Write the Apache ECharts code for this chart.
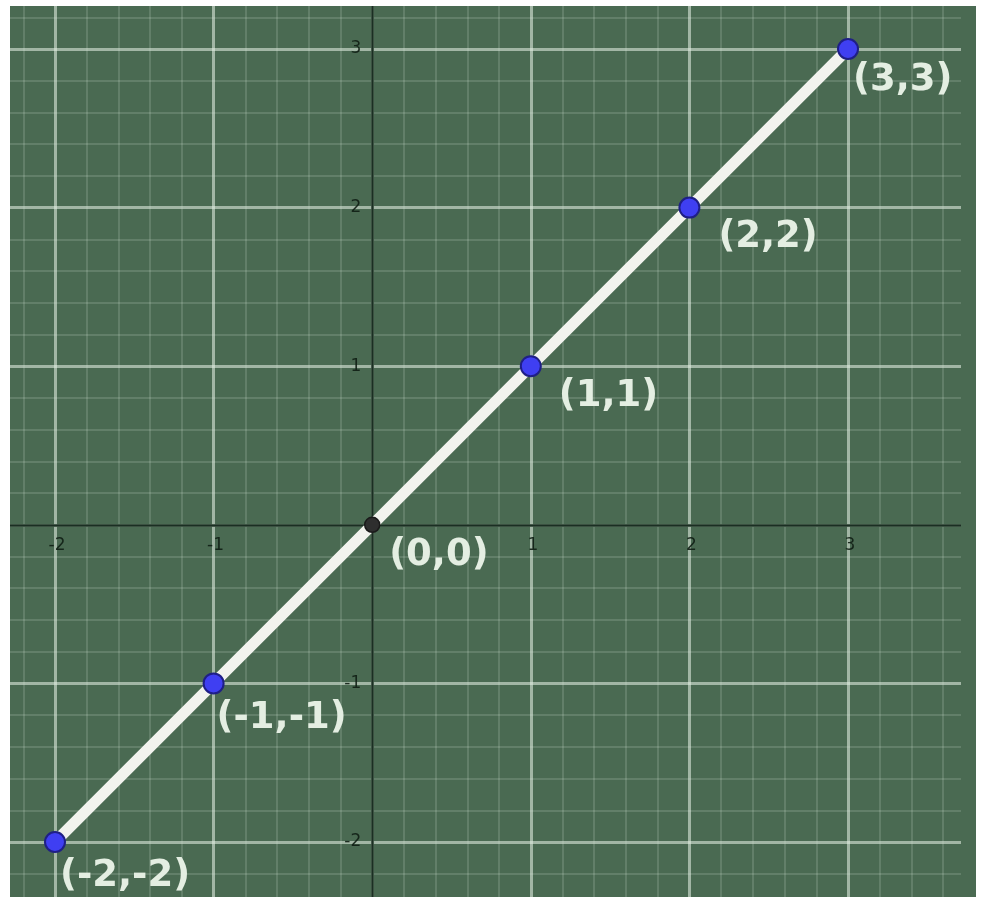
<!DOCTYPE html>
<html>
<head>
<meta charset="utf-8">
<script src="https://cdn.jsdelivr.net/npm/echarts@6/dist/echarts.min.js"></script>
<style>
  html, body { margin: 0; padding: 0; background: #ffffff; overflow: hidden; }
  #chart { width: 981px; height: 897px; }
</style>
</head>
<body>
<div id="chart"></div>
<script>
// Points on the line y = x
const xValues = [-2, -1, 0, 1, 2, 3];
const yValues = [-2, -1, 0, 1, 2, 3];

// Axis extent (integer so that unit ticks start on whole numbers)
const axisMin = -3;
const axisMax = 4;
const tickStep = 1;

const chart = echarts.init(document.getElementById('chart'), null, { renderer: 'canvas' });

const BOARD = '#4a6a52';
const unitPx = 158.6;

// label placement relative to each point (text left edge, vertical centre)
const labelOffsets = [[5, 34], [3, 35], [17, 31], [28, 30], [29, 30], [5, 31]];

const pointData = xValues.map((x, i) => {
  const y = yValues[i];
  const isOrigin = x === 0 && y === 0;
  return {
    value: [x, y],
    symbolSize: isOrigin ? 15 : 20,
    itemStyle: isOrigin
      ? { color: '#2e2e2e', borderColor: '#1a1a1a', borderWidth: 1.5 }
      : { color: '#3f3ff2', borderColor: '#1f1f86', borderWidth: 2 },
    label: { offset: labelOffsets[i] }
  };
});

const majorLine = { show: true, lineStyle: { color: 'rgba(225,238,225,0.58)', width: 3 } };
const minorLine = { show: true, lineStyle: { color: 'rgba(210,228,210,0.18)', width: 2 } };
const axisLineStyle = { show: true, onZero: false, lineStyle: { color: '#1a2f22', width: 2.5 } };
const tickLabel = (v) => (v === 0 ? '' : String(v));
const tickFont = { fontSize: 17, color: 'rgba(16,30,20,0.9)', fontFamily: 'DejaVu Sans' };

// Grid placement: x = -2 lands at 55px and y = 3 lands at 49px
const span = (axisMax - axisMin) * unitPx;
const gridLeft = 55 - (-2 - axisMin) * unitPx;
const gridTop = 49 - (axisMax - 3) * unitPx;
const zeroX = gridLeft + (0 - axisMin) * unitPx;
const zeroY = gridTop + (axisMax - 0) * unitPx;

const option = {
  animation: false,
  backgroundColor: '#ffffff',
  grid: {
    left: gridLeft,
    top: gridTop,
    width: span,
    height: span,
    containLabel: false,
    outerBoundsMode: 'none',
    show: true,
    backgroundColor: BOARD,
    borderWidth: 0
  },
  xAxis: {
    type: 'value',
    position: 'bottom',
    offset: zeroY - (gridTop + span),
    min: axisMin,
    max: axisMax,
    interval: tickStep,
    axisLine: axisLineStyle,
    axisTick: { show: false },
    axisLabel: Object.assign({ formatter: tickLabel, margin: 12, padding: [0, 0, 0, 4] }, tickFont),
    splitLine: majorLine,
    minorTick: { show: false, splitNumber: 5 },
    minorSplitLine: minorLine
  },
  yAxis: {
    type: 'value',
    position: 'left',
    offset: gridLeft - zeroX,
    min: axisMin,
    max: axisMax,
    interval: tickStep,
    axisLine: axisLineStyle,
    axisTick: { show: false },
    axisLabel: Object.assign({ formatter: tickLabel, margin: 11, padding: [3, 0, 0, 0] }, tickFont),
    splitLine: majorLine,
    minorTick: { show: false, splitNumber: 5 },
    minorSplitLine: minorLine
  },
  series: [{
    type: 'line',
    data: pointData,
    symbol: 'circle',
    showAllSymbol: true,
    lineStyle: { color: '#f2f3ee', width: 11 },
    z: 5,
    label: {
      show: true,
      position: 'inside',
      align: 'left',
      verticalAlign: 'middle',
      formatter: (p) => '(' + p.value[0] + ',' + p.value[1] + ')',
      fontSize: 37,
      fontWeight: 'bold',
      fontFamily: 'DejaVu Sans',
      color: '#e4eee2'
    }
  }],
  graphic: [
    { type: 'rect', z: 100, shape: { x: 961, y: 0, width: 15, height: 897 }, style: { fill: BOARD } },
    { type: 'rect', z: 101, shape: { x: 0, y: 0, width: 10, height: 897 }, style: { fill: '#ffffff' } },
    { type: 'rect', z: 101, shape: { x: 0, y: 0, width: 981, height: 6 }, style: { fill: '#ffffff' } },
    { type: 'rect', z: 101, shape: { x: 976, y: 0, width: 5, height: 897 }, style: { fill: '#ffffff' } }
  ]
};

chart.setOption(option);
</script>
</body>
</html>
